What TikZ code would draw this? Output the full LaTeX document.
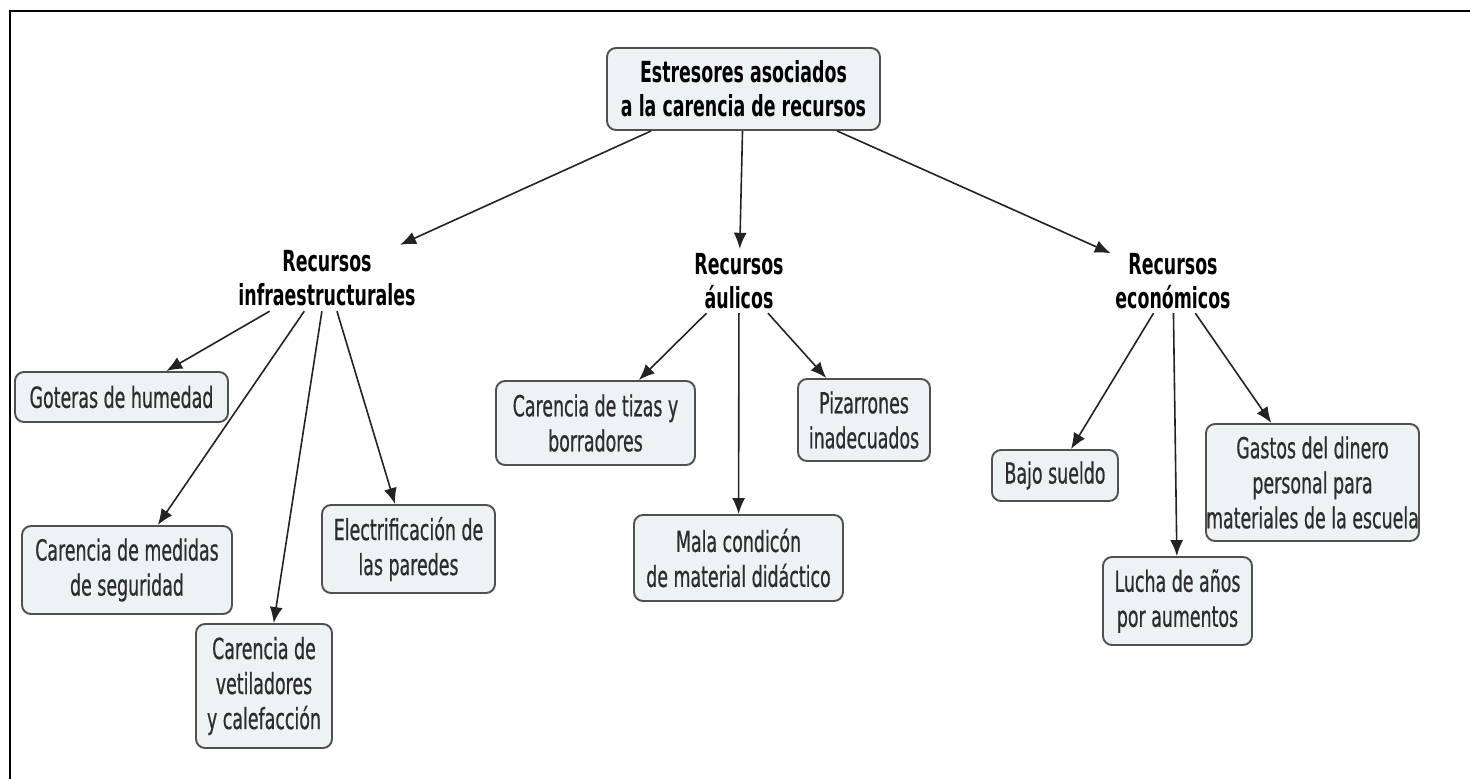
\documentclass[tikz,border=0pt]{standalone}
\usepackage{fontspec}
\setmainfont[FakeStretch=0.6]{DejaVu Sans}
\newfontfamily\leaffont[FakeStretch=0.6,FakeBold=0.6]{DejaVu Sans}
\usetikzlibrary{arrows.meta}
\definecolor{boxfill}{RGB}{237,242,245}
\definecolor{boxline}{RGB}{80,80,80}
\definecolor{txt}{RGB}{45,45,45}
\definecolor{arrowc}{RGB}{35,35,35}
\begin{document}
\begin{tikzpicture}[x=1pt,y=-1pt,
  leaf/.style={draw=boxline, line width=1.9pt, fill=boxfill, rounded corners=9pt,
    align=center, font=\leaffont\fontsize{29}{35}\selectfont, text=txt, inner sep=0pt},
  head/.style={align=center, font=\bfseries\fontsize{29}{34}\selectfont, inner sep=0pt},
  arr/.style={-{Latex[length=16pt,width=13pt]}, line width=1.6pt, draw=arrowc}]
\useasboundingbox (0,0) rectangle (1470,779);
\draw[line width=2.2pt] (10,779) -- (10,11) -- (1470,11);

% root
\node[leaf, font=\bfseries\fontsize{29}{34}\selectfont, text=black, minimum width=273pt, minimum height=82pt] (root) at (743.5,89) {Estresores asociados\\a la carencia de recursos};

% headings
\node[head, minimum width=200pt, minimum height=66pt] (infra) at (327,278) {Recursos\\infraestructurales};
\node[head, minimum width=100pt, minimum height=64pt] (aul) at (739,281) {Recursos\\áulicos};
\node[head, minimum width=124pt, minimum height=64pt] (eco) at (1173,281) {Recursos\\económicos};

% leaves
\node[leaf, minimum width=213pt, minimum height=50pt] (gote) at (121.5,397) {Goteras de humedad};
\node[leaf, minimum width=210pt, minimum height=88pt] (med) at (127,570) {Carencia de medidas\\de seguridad};
\node[leaf, minimum width=136pt, minimum height=124pt] (vet) at (264,686) {Carencia de\\vetiladores\\y calefacción};
\node[leaf, minimum width=173pt, minimum height=88pt] (elec) at (408.5,549) {Electrificación de\\las paredes};
\node[leaf, minimum width=199pt, minimum height=84pt] (tiz) at (595.5,423) {Carencia de tizas y\\borradores};
\node[leaf, minimum width=209pt, minimum height=86pt] (mala) at (738.5,558) {Mala condicón\\de material didáctico};
\node[leaf, minimum width=132pt, minimum height=82pt] (piz) at (864,420) {Pizarrones\\inadecuados};
\node[leaf, minimum width=126pt, minimum height=51pt] (bajo) at (1055,475.5) {Bajo sueldo};
\node[leaf, minimum width=149pt, minimum height=88pt] (lucha) at (1177.5,601) {Lucha de años\\por aumentos};
\node[leaf, minimum width=213pt, minimum height=117pt] (gast) at (1312.5,482.5) {Gastos del dinero\\personal para\\materiales de la escuela};

% connectors
\draw[arr] (root) -- (infra);
\draw[arr] (root) -- (aul);
\draw[arr] (root) -- (eco);
\draw[arr] (infra) -- (gote);
\draw[arr] (infra) -- (med);
\draw[arr] (infra) -- (vet);
\draw[arr] (infra) -- (elec);
\draw[arr] (aul) -- (tiz);
\draw[arr] (aul) -- (mala);
\draw[arr] (aul) -- (piz);
\draw[arr] (eco) -- (bajo);
\draw[arr] (eco) -- (lucha);
\draw[arr] (eco) -- (gast);
\end{tikzpicture}
\end{document}
